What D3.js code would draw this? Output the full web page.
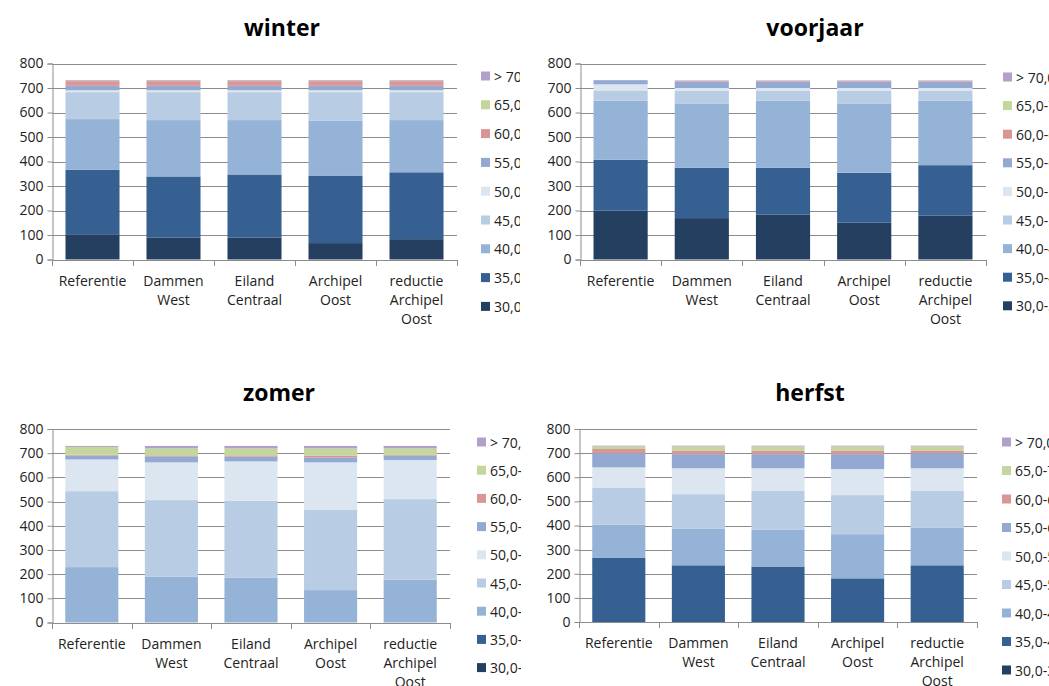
<!DOCTYPE html>
<html>
<head>
<meta charset="utf-8">
<script src="https://cdn.jsdelivr.net/npm/d3@7"></script>
<style>
  html, body { margin: 0; padding: 0; background: #fff; }
  svg { display: block; font-family: "Open Sans", "DejaVu Sans", sans-serif; }
</style>
</head>
<body>
<svg id="chart" width="1049" height="686"></svg>
<script>
// ---- data ----
const categories = ["Referentie", "Dammen West", "Eiland Centraal", "Archipel Oost", "reductie Archipel Oost"];
const categoryLines = [["Referentie"], ["Dammen", "West"], ["Eiland", "Centraal"], ["Archipel", "Oost"], ["reductie", "Archipel", "Oost"]];
const seriesNames = ["30,0-35,0", "35,0-40,0", "40,0-45,0", "45,0-50,0", "50,0-55,0", "55,0-60,0", "60,0-65,0", "65,0-70,0", "> 70,0"];
const seriesColors = ["#253f60", "#366092", "#95b3d7", "#b8cce4", "#dce6f1", "#93a9d2", "#d99694", "#c3d69b", "#b1a0c7"];
const yTicks = [0, 100, 200, 300, 400, 500, 600, 700, 800];

// values per series (rows) for the 5 categories
const winterValues = [
  [103, 90, 90, 67, 83],
  [263, 249, 257, 274, 273],
  [207, 230, 222, 225, 213],
  [110, 114, 114, 117, 114],
  [8, 8, 8, 8, 8],
  [18, 18, 18, 18, 18],
  [19, 19, 19, 19, 19],
  [1, 1, 1, 1, 1],
  [3, 3, 3, 3, 3]
];
const voorjaarValues = [
  [199, 169, 184, 150, 180],
  [208, 205, 190, 204, 205],
  [241, 263, 274, 283, 263],
  [42, 51, 40, 51, 40],
  [25, 12, 12, 12, 12],
  [17, 26, 26, 26, 26],
  [0, 3, 3, 3, 3],
  [0, 0, 0, 0, 0],
  [0, 2, 2, 2, 2]
];
const zomerValues = [
  [0, 0, 0, 0, 0],
  [0, 0, 0, 0, 0],
  [229, 189, 186, 134, 177],
  [314, 317, 317, 331, 333],
  [131, 156, 163, 197, 162],
  [16, 25, 20, 21, 18],
  [4, 4, 5, 7, 3],
  [32, 29, 29, 30, 27],
  [4, 10, 10, 10, 10]
];
const herfstValues = [
  [0, 0, 0, 0, 0],
  [267, 235, 230, 181, 235],
  [136, 151, 152, 183, 157],
  [153, 144, 161, 162, 151],
  [85, 107, 94, 108, 94],
  [59, 59, 59, 62, 63],
  [17, 15, 15, 15, 11],
  [11, 17, 17, 17, 17],
  [3, 3, 3, 3, 3]
];

// ---- layout ----
const panels = [
  { title: "winter",   values: winterValues,   x0: 52,  x1: 457, y0: 259.5, y1: 63.5, titleX: 282, titleY: 36,  legX: 481, legY: 76,  legDy: 28.8, clipX1: 520 },
  { title: "voorjaar", values: voorjaarValues, x0: 580, x1: 986, y0: 259.5, y1: 63.5, titleX: 815, titleY: 36,  legX: 1003, legY: 77, legDy: 28.6, clipX1: 1049 },
  { title: "zomer",    values: zomerValues,    x0: 52,  x1: 450, y0: 622.5, y1: 429,  titleX: 279, titleY: 401, legX: 477, legY: 442, legDy: 28.2, clipX1: 521 },
  { title: "herfst",   values: herfstValues,   x0: 579, x1: 977, y0: 622,   y1: 429,  titleX: 810, titleY: 401, legX: 1002, legY: 442, legDy: 28.5, clipX1: 1049 }
];

const svg = d3.select("#chart");
const defs = svg.append("defs");

panels.forEach((p, pi) => {
  const g = svg.append("g");
  const x = d3.scaleBand().domain(categories).range([p.x0, p.x1]).paddingInner(0.333).paddingOuter(0.1665);
  const y = d3.scaleLinear().domain([0, 800]).range([p.y0, p.y1]);

  // gridlines
  g.append("g").selectAll("line").data(yTicks.filter(t => t > 0)).join("line")
    .attr("x1", p.x0).attr("x2", p.x1)
    .attr("y1", d => Math.round(y(d)) + 0.5).attr("y2", d => Math.round(y(d)) + 0.5)
    .attr("stroke", "#8c8c8c").attr("stroke-width", 1);

  // stacked bars
  const rows = categories.map((c, ci) => {
    const o = { cat: c };
    seriesNames.forEach((s, si) => { o[s] = p.values[si][ci]; });
    return o;
  });
  const stack = d3.stack().keys(seriesNames)(rows);
  g.append("g").selectAll("g").data(stack).join("g")
    .attr("fill", (d, i) => seriesColors[i])
    .selectAll("rect").data(d => d).join("rect")
    .attr("x", d => x(d.data.cat))
    .attr("width", x.bandwidth())
    .attr("y", d => y(d[1]))
    .attr("height", d => Math.max(0, y(d[0]) - y(d[1])));

  // y axis
  const yAxis = d3.axisLeft(y).tickValues(yTicks).tickSize(5).tickPadding(4);
  const ya = g.append("g").attr("transform", `translate(${p.x0 + 0.5},0)`).call(yAxis);
  ya.select(".domain").attr("stroke", "#8c8c8c");
  ya.selectAll(".tick line").attr("stroke", "#8c8c8c");
  ya.selectAll(".tick text").attr("font-size", 14).attr("fill", "#222").attr("font-family", "Open Sans");

  // x axis baseline and ticks at category boundaries
  const xa = g.append("g");
  xa.append("line").attr("x1", p.x0).attr("x2", p.x1)
    .attr("y1", Math.round(p.y0) + 0.5).attr("y2", Math.round(p.y0) + 0.5).attr("stroke", "#8c8c8c");
  const step = (p.x1 - p.x0) / categories.length;
  xa.selectAll("line.b").data(d3.range(categories.length + 1)).join("line").attr("class", "b")
    .attr("x1", i => Math.round(p.x0 + i * step) + 0.5).attr("x2", i => Math.round(p.x0 + i * step) + 0.5)
    .attr("y1", Math.round(p.y0)).attr("y2", Math.round(p.y0) + 6).attr("stroke", "#8c8c8c");
  const lbl = xa.selectAll("text.c").data(categories).join("text").attr("class", "c")
    .attr("text-anchor", "middle").attr("font-size", 14).attr("fill", "#222");
  lbl.each(function(c, ci) {
    const t = d3.select(this);
    categoryLines[ci].forEach((line, li) => {
      t.append("tspan").attr("x", x(c) + x.bandwidth() / 2).attr("y", p.y0 + 26 + li * 19).text(line);
    });
  });

  // title
  g.append("text").attr("x", p.titleX).attr("y", p.titleY).attr("text-anchor", "middle")
    .attr("font-size", 23).attr("font-weight", "bold").attr("fill", "#000").text(p.title);

  // legend (clipped at panel edge, as in the reference)
  defs.append("clipPath").attr("id", "clip" + pi).append("rect")
    .attr("x", p.legX - 5).attr("y", p.legY - 20).attr("width", p.clipX1 - p.legX + 5).attr("height", 300);
  const leg = g.append("g").attr("clip-path", `url(#clip${pi})`);
  const order = d3.range(seriesNames.length).reverse();
  const items = leg.selectAll("g").data(order).join("g")
    .attr("transform", (d, i) => `translate(${p.legX},${p.legY + i * p.legDy})`);
  items.append("rect").attr("x", 0).attr("y", -4.5).attr("width", 9).attr("height", 9)
    .attr("fill", d => seriesColors[d]);
  items.append("text").attr("x", 13).attr("y", 5.5).attr("font-size", 14).attr("fill", "#222")
    .text(d => seriesNames[d]);
});
</script>
</body>
</html>
